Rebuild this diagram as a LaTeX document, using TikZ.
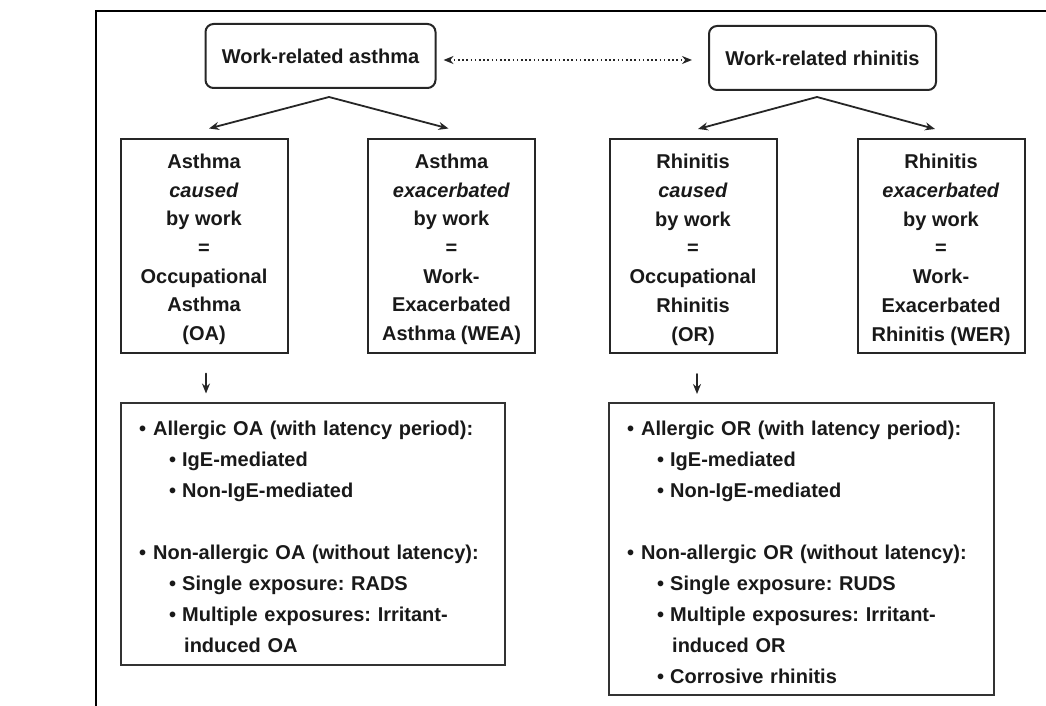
\documentclass[tikz,border=0pt]{standalone}
\usepackage{fontspec}
\setmainfont{Liberation Sans}
\usetikzlibrary{arrows.meta}
\frenchspacing
\newcommand{\itm}{\makebox[14pt][l]{\textbullet}}
\newcommand{\subitm}{\hspace*{30pt}\makebox[13pt][l]{\textbullet}}
\newcommand{\lift}{\rule{0pt}{22pt}}
\begin{document}
\begin{tikzpicture}[x=1pt,y=-1pt,
    every node/.style={font=\fontsize{20}{28.7}\selectfont\bfseries,text=black!90},
    topbox/.style={draw=black!85,line width=2pt,rounded corners=8pt,minimum width=230pt,minimum height=64pt,inner sep=0pt},
    defbox/.style={draw=black!85,line width=2pt,minimum width=167pt,minimum height=214pt,align=center,inner sep=0pt},
    listbox/.style={draw=black!80,line width=2pt,inner sep=0pt},
    listtext/.style={anchor=base west,align=left,text width=360pt,inner sep=0pt,font=\fontsize{20}{31}\selectfont\bfseries},
    arr/.style={draw=black!85,line width=1.8pt,line cap=round,-{Stealth[length=10pt,width=8pt]}}]
\useasboundingbox (0,0) rectangle (1046,706);
\draw[line width=2.6pt] (96,706) -- (96,11) -- (1046,11);
\node[topbox] (wra) at (320.5,56) {Work-related asthma};
\node[topbox,minimum width=227pt] (wrr) at (822.5,58) {Work-related rhinitis};
\draw[arr,dash pattern=on 1.6pt off 2.6pt,line cap=butt,{Stealth[length=10pt,width=8pt]}-{Stealth[length=10pt,width=8pt]},shorten <=7pt,shorten >=16pt]
    ([yshift=-4pt]wra.east) -- ([yshift=-4pt]wra.east -| wrr.west);
\node[defbox] (oa) at (204,245.5) {\lift Asthma\\\textit{caused}\\by work\\=\\Occupational\\Asthma\\(OA)};
\node[defbox] (wea) at (451.5,245.5) {\lift Asthma\\\textit{exacerbated}\\by work\\=\\Work-\\Exacerbated\\Asthma (WEA)};
\node[defbox] (or) at (693,246) {\lift Rhinitis\\\textit{caused}\\by work\\=\\Occupational\\Rhinitis\\(OR)};
\node[defbox] (wer) at (941,246) {\lift Rhinitis\\\textit{exacerbated}\\by work\\=\\Work-\\Exacerbated\\Rhinitis (WER)};
\coordinate (asplit) at (329,97);
\coordinate (rsplit) at (817,97);
\draw[arr] (asplit) -- ([shift={(5pt,9pt)}]oa.north);
\draw[arr] (asplit) -- ([shift={(-3pt,9pt)}]wea.north);
\draw[arr] (rsplit) -- ([shift={(5pt,9pt)}]or.north);
\draw[arr] (rsplit) -- ([shift={(-6pt,9pt)}]wer.north);
\node[listbox,minimum width=384pt,minimum height=262pt] (oalist) at (313,534) {};
\node[listbox,minimum width=385pt,minimum height=292pt] (orlist) at (801.5,549) {};
\draw[arr] ([shift={(2pt,-20pt)}]oa.south) -- +(0,20);
\draw[arr] ([shift={(4pt,-20pt)}]or.south) -- +(0,20);
\node[listtext] (oatext) at (139,435) {\itm Allergic OA (with latency period):\\
    \subitm IgE-mediated\\
    \subitm Non-IgE-mediated\\[31pt]
    \itm Non-allergic OA (without latency):\\
    \subitm Single exposure: RADS\\
    \subitm Multiple exposures: Irritant-\\
    \hspace*{45pt}induced OA};
\node[listtext] (ortext) at (627,435) {\itm Allergic OR (with latency period):\\
    \subitm IgE-mediated\\
    \subitm Non-IgE-mediated\\[31pt]
    \itm Non-allergic OR (without latency):\\
    \subitm Single exposure: RUDS\\
    \subitm Multiple exposures: Irritant-\\
    \hspace*{45pt}induced OR\\
    \subitm Corrosive rhinitis};
\end{tikzpicture}
\end{document}
